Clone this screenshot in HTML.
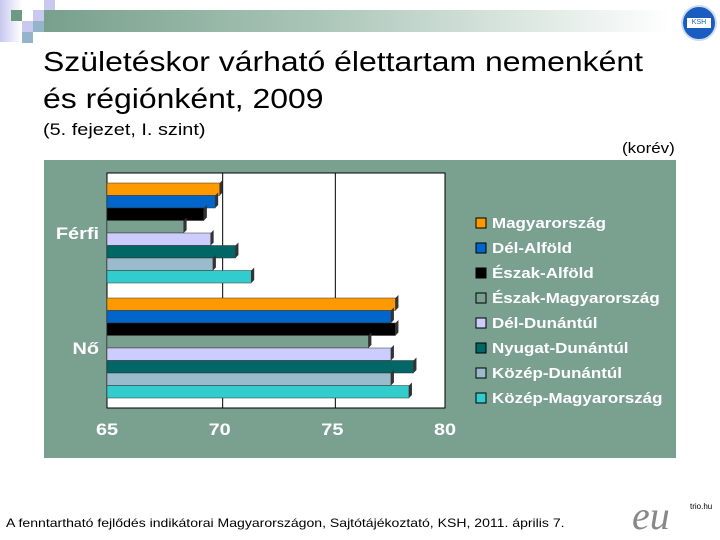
<!DOCTYPE html>
<html><head><meta charset="utf-8"><style>
body{margin:0;width:720px;height:540px;background:#fff;position:relative;overflow:hidden;font-family:"Liberation Sans",sans-serif}
.a{position:absolute}
.s{transform-origin:0 0;transform:scaleX(1.17);white-space:nowrap}
</style></head><body>
<div class="a" style="left:44px;top:10px;width:660px;height:22px;background:linear-gradient(90deg,#78a08c,#a8c4b6 40%,#fff 95%)"></div>
<div class="a" style="left:0;top:0;width:22px;height:42px;background:linear-gradient(90deg,#c8c8f0,#fff)"></div>
<div class="a" style="left:11px;top:10px;width:11px;height:11px;background:#6e9a84"></div>
<div class="a" style="left:33px;top:10px;width:11px;height:11px;background:#c8c8f0"></div>
<div class="a" style="left:44px;top:0;width:11px;height:10px;background:#c8c8f0"></div>
<div class="a" style="left:22px;top:21px;width:11px;height:11px;background:#c8c8f0"></div>
<div class="a" style="left:33px;top:21px;width:11px;height:11px;background:#94b4cc"></div>
<div class="a" style="left:22px;top:32px;width:11px;height:11px;background:#94b4cc"></div>
<div class="a" style="left:681px;top:5px;width:32px;height:32px;border-radius:50%;background:#1a5cc0;border:2px solid #cde"><div style="margin:11px 4px;background:#fff;height:10px;font-size:7px;color:#1a5cc0;text-align:center;line-height:10px">KSH</div></div>
<div class="a s" style="left:43px;top:43px;font-size:27.3px;line-height:37px;color:#000">Születéskor várható élettartam nemenként<br>és régiónként, 2009</div>
<div class="a s" style="left:43px;top:120px;font-size:17px">(5. fejezet, I. szint)</div>
<div class="a s" style="left:622px;top:141px;font-size:14.5px">(korév)</div>
<svg class="a" style="left:0;top:0" width="720" height="540">
<rect x="44" y="160" width="632" height="298" fill="#7aa090"/>
<g id="g"></g>
</svg>
<div class="a s" style="left:6px;top:516px;font-size:12px">A fenntartható fejlődés indikátorai Magyarországon, Sajtótájékoztató, KSH, 2011. április 7.</div>
<div class="a" style="left:632px;top:496px;font-family:'Liberation Serif',serif;font-style:italic;font-size:40px;color:#888;line-height:40px">eu</div>
<div class="a" style="left:690px;top:502px;font-size:8px">trio.hu</div>
<script>
const categories=["Férfi","Nő"];
const regions=["Magyarország","Dél-Alföld","Észak-Alföld","Észak-Magyarország","Dél-Dunántúl","Nyugat-Dunántúl","Közép-Dunántúl","Közép-Magyarország"];
const ferfi=[70.0,69.8,69.3,68.4,69.6,70.7,69.7,71.4];
const no=[77.8,77.6,77.8,76.6,77.6,78.6,77.6,78.4];
const ticks=[65,70,75,80];
const colors=["#ff9900","#0066cc","#000000","#7aa090","#ccccff","#006666","#99bbcc","#33cccc"];
const NS="http://www.w3.org/2000/svg",g=document.getElementById('g');
const x0=107,x1=445,vmin=65,vmax=80;
const X=v=>x0+(v-vmin)/(vmax-vmin)*(x1-x0);
function el(t,a){const e=document.createElementNS(NS,t);for(const k in a)e.setAttribute(k,a[k]);g.appendChild(e);return e;}
function txt(x,y,s,anchor,size){const e=el('text',{x:0,y:0,transform:`translate(${x},${y}) scale(1.17,1)`,'text-anchor':anchor,'font-size':size,'font-weight':'bold',fill:'#fff','font-family':'Liberation Sans'});e.textContent=s;return e;}
let r=el('rect',{x:x0,y:173,width:x1-x0,height:235,fill:'#fff',stroke:'#000','stroke-width':1});

ticks.forEach((t,i)=>{
 if(i>0&&i<ticks.length-1){let l=el('line',{x1:X(t)+3,y1:173,x2:X(t)+3,y2:408,stroke:'#000'});}
 let tx=txt(X(t),435,t,'middle',17);
 
});
const series=[ferfi,no],gTop=[183,298],bh=12.5;
series.forEach((vals,ci)=>{
 vals.forEach((v,i)=>{
  const y=gTop[ci]+i*bh,w=X(v)-x0;
  let b=el('rect',{x:x0,y:y,width:w,height:bh,fill:colors[i],stroke:'#333','stroke-width':0.5});
  
  let c=el('polygon',{points:`${x0+w},${y} ${x0+w+3},${y-3} ${x0+w+3},${y+bh-3} ${x0+w},${y+bh}`,fill:'#333'});
  
 });
 let t=txt(99,gTop[ci]+bh*4+6,categories[ci],'end',17);
 
});
regions.forEach((n,i)=>{
 const y=223+i*25;
 let m=el('rect',{x:476,y:y-5,width:10,height:10,fill:colors[i],stroke:'#000','stroke-width':1});
 
 let t=txt(492,y+5,n,'start',14.5);
 
});
</script>
</body></html>
